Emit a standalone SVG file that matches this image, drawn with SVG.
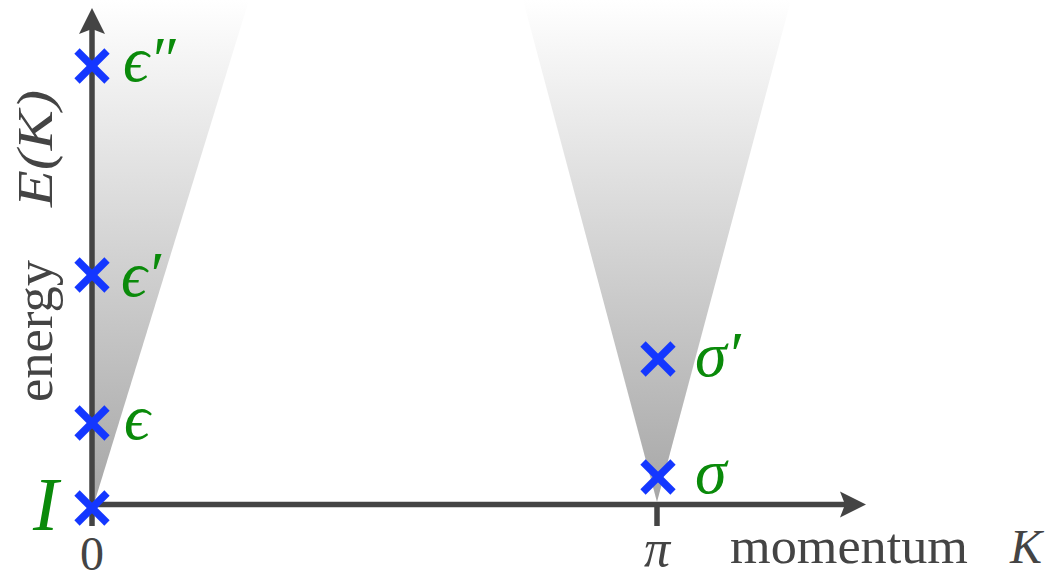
<svg xmlns="http://www.w3.org/2000/svg" xmlns:xlink="http://www.w3.org/1999/xlink" width="1055" height="579" viewBox="0 0 1055 579">
<style>
.ax{stroke:#444;stroke-width:5.5;fill:none}
.ah{fill:#444}
.cr{stroke:#1437ff;stroke-width:7.5;stroke-linecap:butt}
.lb{font-style:italic;fill:#0a8a0a}
.tx{fill:#444}
</style>
<defs>
<linearGradient id="g" gradientUnits="userSpaceOnUse" x1="0" y1="505" x2="0" y2="0">
<stop offset="0" stop-color="#a6a6a6"/>
<stop offset="1" stop-color="#ffffff"/>
</linearGradient>
<g id="x"><line class="cr" x1="-15" y1="-15" x2="15" y2="15"/><line class="cr" x1="-15" y1="15" x2="15" y2="-15"/></g>
</defs>
<g id="cones">
<polygon points="93,507 92,0 249,0" fill="url(#g)"/>
<polygon points="657,502 523,0 791,0" fill="url(#g)"/>
</g>
<g id="axes">
<line class="ax" x1="92" y1="526" x2="92" y2="28"/>
<path class="ah" d="M92,8 L105,34 L92,29 L79,34 Z"/>
<line class="ax" x1="89" y1="504.5" x2="846" y2="504.5"/>
<path class="ah" d="M866,504.5 L840,517.5 L845,504.5 L840,491.5 Z"/>
<line class="ax" x1="657" y1="504" x2="657" y2="526"/>
</g>
<g id="crosses">
<use xlink:href="#x" x="92" y="66"/>
<use xlink:href="#x" x="92" y="275"/>
<use xlink:href="#x" x="92" y="423"/>
<use xlink:href="#x" x="92" y="508"/>
<use xlink:href="#x" x="658" y="359"/>
<use xlink:href="#x" x="658" y="477"/>
</g>
<g font-family="Liberation Serif, Times New Roman, DejaVu Serif, serif">
<g id="labels">
<text class="lb" x="123" y="81" font-size="64">ϵ″</text>
<text class="lb" x="121" y="296" font-size="64">ϵ′</text>
<text class="lb" x="124" y="439" font-size="64">ϵ</text>
<text class="lb" x="33" y="530" font-size="76">I</text>
<text class="lb" x="695" y="376" font-size="64">σ′</text>
<text class="lb" x="695" y="493" font-size="64">σ</text>
</g>
<g id="axislabels">
<text class="tx" x="92" y="570" font-size="48" text-anchor="middle">0</text>
<text class="tx" x="657" y="566" font-size="52" font-style="italic" text-anchor="middle">π</text>
<text class="tx" x="730" y="563" font-size="50" textLength="238" lengthAdjust="spacingAndGlyphs">momentum</text>
<text class="tx" x="1010" y="563" font-size="48" font-style="italic">K</text>
<text class="tx" transform="translate(52,402) rotate(-90)" font-size="52" textLength="142" lengthAdjust="spacingAndGlyphs">energy</text>
<text class="tx" transform="translate(52,207) rotate(-90)" font-size="50" font-style="italic" textLength="117" lengthAdjust="spacingAndGlyphs">E(K)</text>
</g>
</g>
</svg>
